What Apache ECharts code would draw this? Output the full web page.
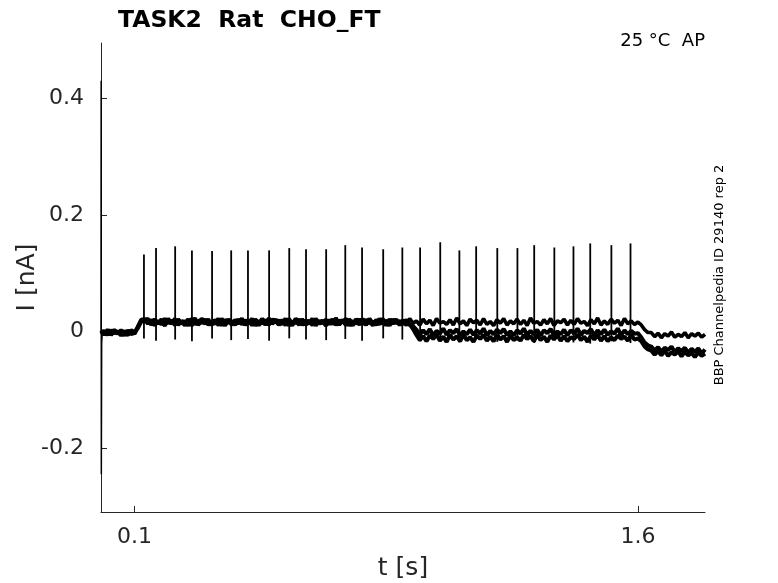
<!DOCTYPE html>
<html>
<head>
<meta charset="utf-8">
<script src="https://cdn.jsdelivr.net/npm/echarts@6/dist/echarts.min.js"></script>
<style>
	html, body { margin: 0; padding: 0; background: #fff; }
	#chart { width: 778px; height: 583px; }
</style>
</head>
<body>
<div id="chart"></div>
<script>
// sampling step of the traces [s]
var dt = 0.01;

// onset artefact at t = 0
var artefactT = [0, 0.0005, 0.001, 0.002, 0.004];
var artefactI = [0, 0.43, -0.245, -0.02, 0.001];

// three sweeps [nA], one value every dt from 0 to 1.8 s
var traceA = [
	0.002, -0.006, 0.001, -0.005, 0.003, -0.004, -0.001, -0.007, 0.002, -0.005,
	-0.003, 0.009, 0.021, 0.019,
	0.022, 0.011, 0.019, 0.013, 0.021, 0.010, 0.018, 0.014, 0.022, 0.012,
	0.017, 0.010, 0.020, 0.015, 0.023, 0.011, 0.018, 0.013, 0.021, 0.012,
	0.019, 0.010, 0.022, 0.014, 0.017, 0.011, 0.020, 0.013, 0.022, 0.012,
	0.018, 0.010, 0.021, 0.015, 0.019, 0.011, 0.023, 0.013, 0.017, 0.012,
	0.020, 0.010, 0.022, 0.014, 0.018, 0.011, 0.021, 0.013, 0.019, 0.010,
	0.022, 0.015, 0.017, 0.011, 0.020, 0.012, 0.023, 0.013, 0.018, 0.010,
	0.021, 0.014, 0.019, 0.011, 0.022, 0.012, 0.017, 0.010, 0.020, 0.015,
	0.022, 0.011, 0.018, 0.013, 0.021, 0.012, 0.019, 0.010, 0.022, 0.014,
	0.018, 0.011, 0.021, 0.013, 0.019, 0.010, 0.022, 0.014, 0.017, 0.012,
	0.020, 0.011, 0.023, 0.013, 0.018, 0.010, 0.021, 0.015, 0.019, 0.011,
	0.022, 0.012, 0.017, 0.010, 0.020, 0.014, 0.022, 0.011, 0.018, 0.013,
	0.021, 0.012, 0.019, 0.010, 0.023, 0.014, 0.017, 0.011, 0.020, 0.013,
	0.022, 0.010, 0.018, 0.015, 0.021, 0.011, 0.019, 0.012, 0.022, 0.014,
	0.017, 0.010, 0.020, 0.013, 0.023, 0.011, 0.018, 0.012, 0.021, 0.014,
	0.019, 0.010, 0.022, 0.013, 0.018, 0.012,
	0.016, 0.011, 0.003, -0.002,
	-0.002, -0.009, -0.003, -0.011, -0.004, -0.008, -0.001, -0.010, -0.005, -0.009,
	-0.002, -0.011, -0.004, -0.008, -0.003, -0.010, -0.005
];
var traceB = [
	-0.004, 0.001, -0.006, 0.002, -0.003, 0.000, -0.007, 0.001, -0.005, 0.002,
	-0.001, 0.006, 0.017, 0.022,
	0.013, 0.020, 0.010, 0.018, 0.012, 0.022, 0.014, 0.019, 0.011, 0.021,
	0.013, 0.018, 0.010, 0.022, 0.012, 0.019, 0.014, 0.021, 0.011, 0.017,
	0.013, 0.022, 0.010, 0.020, 0.015, 0.018, 0.011, 0.021, 0.012, 0.019,
	0.014, 0.022, 0.010, 0.018, 0.013, 0.020, 0.011, 0.021, 0.015, 0.019,
	0.012, 0.022, 0.010, 0.017, 0.014, 0.021, 0.011, 0.019, 0.013, 0.022,
	0.010, 0.018, 0.014, 0.020, 0.012, 0.021, 0.011, 0.019, 0.015, 0.022,
	0.010, 0.018, 0.013, 0.021, 0.012, 0.020, 0.014, 0.017, 0.011, 0.022,
	0.013, 0.019, 0.010, 0.021, 0.014, 0.018, 0.012, 0.020, 0.011, 0.009,
	0.003, -0.006, 0.002, -0.005, 0.004, -0.007, 0.001, -0.004, 0.005, -0.006,
	0.002, -0.003, 0.004, -0.007, 0.000, -0.005, 0.003, -0.006, 0.002, -0.004,
	0.005, -0.007, 0.001, -0.005, 0.003, -0.003, 0.004, -0.006, 0.000, -0.007,
	0.002, -0.004, 0.005, -0.006, 0.001, -0.005, 0.003, -0.007, 0.002, -0.003,
	0.004, -0.006, 0.000, -0.005, 0.003, -0.007, 0.002, -0.004, 0.005, -0.006,
	0.001, -0.003, 0.004, -0.007, 0.002, -0.005, 0.003, -0.006, 0.000, -0.004,
	0.005, -0.007, 0.002, -0.005, 0.001, -0.004,
	-0.003, -0.010, -0.019, -0.024,
	-0.026, -0.033, -0.027, -0.035, -0.028, -0.032, -0.026, -0.036, -0.029, -0.034,
	-0.028, -0.037, -0.030, -0.035, -0.029, -0.038, -0.031
];
var traceC = [
	0.000, -0.005, 0.003, -0.006, 0.001, -0.004, 0.002, -0.003, -0.006, 0.000,
	-0.004, 0.007, 0.019, 0.017,
	0.019, 0.012, 0.021, 0.014, 0.017, 0.010, 0.022, 0.013, 0.020, 0.011,
	0.018, 0.014, 0.021, 0.010, 0.019, 0.012, 0.022, 0.015, 0.017, 0.011,
	0.020, 0.013, 0.018, 0.010, 0.021, 0.012, 0.019, 0.014, 0.022, 0.011,
	0.017, 0.013, 0.020, 0.010, 0.022, 0.012, 0.018, 0.014, 0.021, 0.011,
	0.019, 0.013, 0.017, 0.010, 0.022, 0.015, 0.020, 0.011, 0.018, 0.012,
	0.021, 0.013, 0.019, 0.010, 0.017, 0.014, 0.022, 0.011, 0.020, 0.012,
	0.018, 0.010, 0.021, 0.015, 0.019, 0.011, 0.022, 0.013, 0.018, 0.012,
	0.020, 0.010, 0.021, 0.014, 0.017, 0.011, 0.019, 0.013, 0.012, 0.004,
	-0.006, -0.015, -0.008, -0.017, -0.007, -0.013, -0.005, -0.016, -0.009, -0.018,
	-0.006, -0.014, -0.008, -0.017, -0.005, -0.015, -0.010, -0.018, -0.007, -0.013,
	-0.006, -0.016, -0.009, -0.017, -0.005, -0.014, -0.008, -0.018, -0.007, -0.015,
	-0.010, -0.016, -0.006, -0.013, -0.008, -0.017, -0.005, -0.015, -0.009, -0.018,
	-0.007, -0.014, -0.006, -0.016, -0.008, -0.017, -0.010, -0.013, -0.005, -0.015,
	-0.009, -0.018, -0.007, -0.014, -0.006, -0.016, -0.008, -0.017, -0.010, -0.015,
	-0.007, -0.013, -0.009, -0.016, -0.006, -0.014,
	-0.012, -0.017, -0.026, -0.031,
	-0.033, -0.040, -0.034, -0.041, -0.033, -0.042, -0.036, -0.040, -0.034, -0.043,
	-0.035, -0.041, -0.037, -0.044, -0.036, -0.042, -0.038
];

// action potential spikes: time [s], peak and undershoot [nA]
var spikeT = [0.128, 0.164, 0.221, 0.271, 0.331, 0.388, 0.438, 0.501, 0.561, 0.611,
	0.671, 0.728, 0.778, 0.841, 0.898, 0.951, 1.011, 1.068, 1.118, 1.181,
	1.241, 1.291, 1.351, 1.408, 1.458, 1.521, 1.578];
var spikePeak = [0.132, 0.143, 0.146, 0.139, 0.138, 0.139, 0.139, 0.139, 0.143, 0.141,
	0.141, 0.148, 0.144, 0.141, 0.144, 0.144, 0.153, 0.139, 0.146, 0.143,
	0.143, 0.148, 0.144, 0.146, 0.151, 0.148, 0.151];
var spikeDip = [-0.012, -0.016, -0.014, -0.017, -0.012, -0.015, -0.013, -0.016, -0.012, -0.014,
	-0.015, -0.013, -0.016, -0.012, -0.014, -0.017, -0.015, -0.019, -0.013, -0.018,
	-0.016, -0.020, -0.015, -0.019, -0.021, -0.017, -0.020];

var xTicks = [0.1, 1.6];
var yTicks = [-0.2, 0, 0.2, 0.4];

function toPairs(values) {
	var out = [];
	for (var i = 0; i < values.length; i++) {
		out.push([+(i * dt).toFixed(3), values[i]]);
	}
	return out;
}

var artefactData = [];
for (var k = 0; k < artefactT.length; k++) artefactData.push([artefactT[k], artefactI[k]]);

var spikeData = [];
for (var s = 0; s < spikeT.length; s++) spikeData.push([spikeT[s], spikeDip[s], spikePeak[s]]);

var font = 'DejaVu Sans';
var axisColor = '#262626';
function traceSeries(name, data, width) {
	return {
		name: name,
		type: 'line',
		data: data,
		showSymbol: false,
		symbol: 'none',
		silent: true,
		animation: false,
		lineStyle: { color: '#000', width: width }
	};
}

var myChart = echarts.init(document.getElementById('chart'));
var option = {
	animation: false,
	backgroundColor: '#fff',
	title: {
		text: 'TASK2  Rat  CHO_FT',
		left: 113,
		top: 4,
		textStyle: { fontFamily: font, fontSize: 23.5, fontWeight: 'bold', color: '#000' }
	},
	grid: {
		left: 101, right: 73, top: 43, bottom: 71,
		containLabel: false,
		outerBoundsMode: 'none'
	},
	xAxis: {
		type: 'value',
		min: 0,
		max: 1.8,
		name: 't [s]',
		nameLocation: 'middle',
		nameGap: 44,
		nameMoveOverlap: false,
		nameTextStyle: { fontFamily: font, fontSize: 25, color: axisColor },
		axisLine: { onZero: false, lineStyle: { color: axisColor, width: 1 } },
		axisTick: { inside: true, length: 6, customValues: xTicks, lineStyle: { color: axisColor } },
		axisLabel: { customValues: xTicks, fontFamily: font, fontSize: 22, color: axisColor, margin: 14 },
		splitLine: { show: false }
	},
	yAxis: {
		type: 'value',
		min: -0.31,
		max: 0.495,
		name: 'I [nA]',
		nameLocation: 'middle',
		nameGap: 61,
		nameMoveOverlap: false,
		nameTextStyle: { fontFamily: font, fontSize: 25, color: axisColor },
		axisLine: { show: true, onZero: false, lineStyle: { color: axisColor, width: 1 } },
		axisTick: { show: true, inside: true, length: 6, customValues: yTicks, lineStyle: { color: axisColor } },
		axisLabel: {
			customValues: yTicks, fontFamily: font, fontSize: 22, color: axisColor, margin: 17,
			formatter: function (v) { return String(+v.toFixed(1)); }
		},
		splitLine: { show: false }
	},
	graphic: [
		{
			type: 'text',
			x: 705, y: 41,
			style: { text: '25 °C  AP', font: '18px "DejaVu Sans"', fill: '#000', align: 'right', verticalAlign: 'middle' }
		},
		{
			type: 'text',
			x: 720, y: 275,
			rotation: Math.PI / 2,
			style: { text: 'BBP Channelpedia ID 29140 rep 2', font: '13px "DejaVu Sans"', fill: '#000', align: 'center', verticalAlign: 'middle' }
		}
	],
	series: [
		traceSeries('C', toPairs(traceC), 4),
		traceSeries('B', toPairs(traceB), 4),
		traceSeries('A', toPairs(traceA), 3.6),
		traceSeries('artefact', artefactData, 1.5),
		{
			name: 'spikes',
			type: 'custom',
			silent: true,
			animation: false,
			data: spikeData,
			renderItem: function (params, api) {
				var lo = api.coord([api.value(0), api.value(1)]);
				var hi = api.coord([api.value(0), api.value(2)]);
				return {
					type: 'line',
					shape: { x1: lo[0], y1: lo[1], x2: hi[0], y2: hi[1] },
					style: { stroke: '#000', lineWidth: 1.8 }
				};
			}
		}
	]
};
myChart.setOption(option, true);
</script>
</body>
</html>
